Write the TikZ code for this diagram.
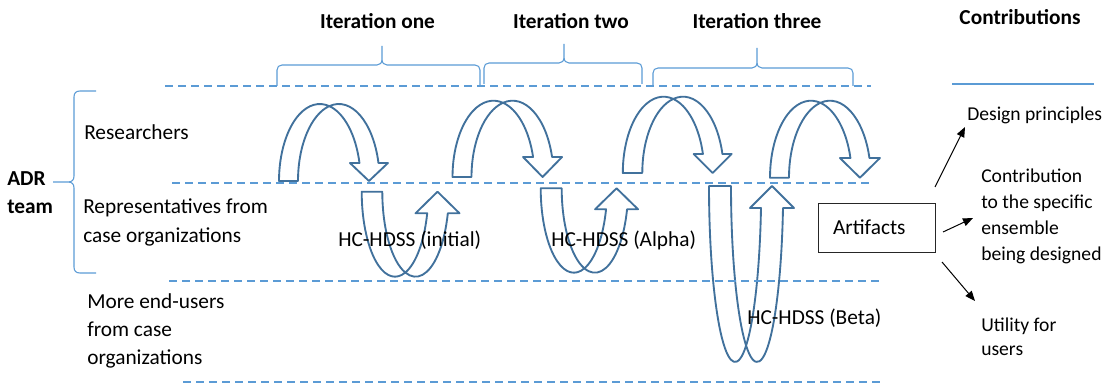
\documentclass[tikz,border=0pt]{standalone}
\usepackage{fontspec}
\setmainfont{Carlito}
\usetikzlibrary{calc,arrows.meta}

\definecolor{ribbonblue}{HTML}{41719C}
\definecolor{guideblue}{HTML}{5B9BD5}

\tikzset{
  ribbon/.style={draw=ribbonblue, fill=white, line width=1.4pt, line join=round},
  guide/.style={draw=guideblue, line width=0.9pt, dash pattern=on 6pt off 3.75pt},
  bracket/.style={draw=guideblue, line width=0.8pt},
  lbl/.style={font=\fontsize{16}{21.5}\selectfont, inner sep=0pt, anchor=west, align=left},
  small/.style={font=\fontsize{14.7}{19.5}\selectfont},
  head/.style={font=\bfseries\fontsize{16}{21.5}\selectfont, inner sep=0pt},
  outarrow/.style={draw=black, line width=0.75pt, -{Triangle[length=7.5pt,width=6pt]}},
}

% Curved ribbon arrow arching upwards and ending in a downward head.
% #1 left foot x, #2 foot y, #3 band width, #4 x radius, #5 y radius,
% #6 head height, #7 head half width
\newcommand\downloop[7]{%
  \pgfmathsetmacro\dlA{#1+#4}%
  \pgfmathsetmacro\dlB{#1+#3+#4}%
  \pgfmathsetmacro\dlM{360-acos(#3/(2*#4))}%
  \pgfmathsetmacro\dlN{360-acos(-#3/(2*#4))}%
  \pgfmathsetmacro\dlE{360-asin(#6/#5)}%
  \pgfmathsetmacro\dlX{\dlB+#4*cos(\dlE)-#3/2}%
  \pgfmathsetmacro\dlH{#2-#6}%
  \draw[ribbon] (#1,#2) arc[start angle=180,end angle=\dlM,x radius=#4,y radius=#5]
    arc[start angle=\dlN,end angle=180,x radius=#4,y radius=#5] -- cycle;
  \draw[ribbon] ($(\dlA,#2)+(\dlM:#4 and #5)$)
    arc[start angle=\dlN,end angle=\dlE,x radius=#4,y radius=#5]
    -- (\dlX+#7,\dlH) -- (\dlX,#2) -- (\dlX-#7,\dlH)
    -- ($(\dlA,#2)+(\dlE:#4 and #5)$)
    arc[start angle=\dlE,end angle=\dlM,x radius=#4,y radius=#5] -- cycle;
}

% Curved ribbon arrow sagging downwards and ending in an upward head.
% #1 left tail x, #2 tail top y, #3 band width, #4 x radius, #5 y radius,
% #6 head height, #7 head half width
\newcommand\uploop[7]{%
  \pgfmathsetmacro\ulA{#1+#4}%
  \pgfmathsetmacro\ulB{#1+#3+#4}%
  \pgfmathsetmacro\ulM{acos(#3/(2*#4))}%
  \pgfmathsetmacro\ulN{acos(-#3/(2*#4))}%
  \pgfmathsetmacro\ulE{asin(#6/#5)}%
  \pgfmathsetmacro\ulX{\ulB+#4*cos(\ulE)-#3/2}%
  \pgfmathsetmacro\ulH{#2+#6}%
  \draw[ribbon] (#1,#2) arc[start angle=180,end angle=\ulM,x radius=#4,y radius=#5]
    arc[start angle=\ulN,end angle=180,x radius=#4,y radius=#5] -- cycle;
  \draw[ribbon] ($(\ulA,#2)+(\ulM:#4 and #5)$)
    arc[start angle=\ulN,end angle=\ulE,x radius=#4,y radius=#5]
    -- (\ulX+#7,\ulH) -- (\ulX,#2) -- (\ulX-#7,\ulH)
    -- ($(\ulA,#2)+(\ulE:#4 and #5)$)
    arc[start angle=\ulE,end angle=\ulM,x radius=#4,y radius=#5] -- cycle;
}

% Horizontal curly bracket opening downwards with its point on top.
% #1 left x, #2 right x, #3 point x, #4 end y, #5 bar y, #6 point y
\newcommand\iterbrace[6]{%
  \draw[bracket] (#1,#4) -- (#1,#5+5) .. controls (#1,#5+2) and (#1+2,#5) .. (#1+5,#5)
    -- (#3-5,#5) .. controls (#3-2,#5) and (#3,#5-2) .. (#3,#5-6) -- (#3,#6)
    -- (#3,#5-6) .. controls (#3,#5-2) and (#3+2,#5) .. (#3+5,#5)
    -- (#2-5,#5) .. controls (#2-2,#5) and (#2,#5+2) .. (#2,#5+5) -- (#2,#4);
}

\begin{document}
\begin{tikzpicture}[x=0.75pt,y=-0.75pt]
  \useasboundingbox (0,0) rectangle (1113,385);

  % column headings
  \node[head] (it1) at (377.5,21) {Iteration one};
  \node[head] (it2) at (571,21) {Iteration two};
  \node[head] (it3) at (757,21) {Iteration three};
  \node[head] (contrib) at (1020,17) {Contributions};

  % brackets grouping the iterations
  \iterbrace{277}{480}{382}{86}{65}{46}
  \iterbrace{484}{642}{564}{84}{63}{44}
  \iterbrace{653}{853}{757}{86}{68}{48}

  % bracket around the ADR team rows
  \draw[bracket] (96,91) -- (80,91) .. controls (76,91) and (74,93) .. (74,97)
    -- (74,176) .. controls (74,180) and (72,182) .. (68,182) -- (53,182)
    -- (68,182) .. controls (72,182) and (74,184) .. (74,188)
    -- (74,267) .. controls (74,271) and (76,273) .. (80,273) -- (96,273);

  % row labels
  \node[lbl, font=\bfseries\fontsize{16}{21.5}\selectfont] (adr) at (7,192.5) {ADR\\team};
  \node[lbl] (res) at (84,132) {Researchers};
  \node[lbl] (rep) at (83,222.5) {Representatives from\\case organizations};
  \node[lbl, font=\fontsize{16}{21}\selectfont] (more) at (87,331) {More end-users\\from case\\organizations};

  % iteration cycles between the rows
  \downloop{279}{181}{19}{40.8}{77}{18}{19}
  \downloop{452.5}{177}{19}{41}{76.3}{20}{19.5}
  \downloop{622.8}{173}{19.5}{40.7}{76.3}{19}{19}
  \downloop{770}{177.7}{19}{40.9}{77}{19.7}{20}

  \uploop{361.7}{191.7}{20.6}{33.3}{85}{21.6}{22}
  \uploop{540.7}{188.3}{21}{33.2}{84.4}{21}{21.5}
  \uploop{709}{186}{22}{26.1}{176}{22}{22}

  % row separators
  \draw[guide] (165,86) -- (871,86);
  \draw[guide] (172,183) -- (869,183);
  \draw[guide] (169,281) -- (879,281);
  \draw[guide] (183,382) -- (885,382);
  \draw[guideblue, line width=0.9pt] (952,84) -- (1094,84);

  % artifact names
  \node[lbl] (hci) at (338,240) {HC-HDSS (initial)};
  \node[lbl] (hca) at (551,240) {HC-HDSS (Alpha)};
  \node[lbl] (hcb) at (747,318) {HC-HDSS (Beta)};

  % artifacts and their contributions
  \node[draw=black!85, line width=0.75pt, minimum width=87.75pt, minimum height=36.75pt,
        text width=65.25pt, inner xsep=11.25pt, inner ysep=0pt, align=left,
        font=\fontsize{16}{21.5}\selectfont] (art) at (876.5,227.5) {Artifacts};
  \node[lbl, small] (dp) at (967,115) {Design principles};
  \node[lbl, small] (cs) at (981,216) {Contribution\\to the specific\\ensemble\\being designed};
  \node[lbl, font=\fontsize{14.7}{18}\selectfont] (ut) at (981,337) {Utility for\\users};

  \coordinate (a1s) at (935,187);
  \coordinate (a1e) at (965,127);
  \coordinate (a2s) at (943,232);
  \coordinate (a2e) at (973,218);
  \coordinate (a3s) at (942,262);
  \coordinate (a3e) at (975,301);
  \draw[outarrow] (a1s) -- (a1e);
  \draw[outarrow] (a2s) -- (a2e);
  \draw[outarrow] (a3s) -- (a3e);
\end{tikzpicture}
\end{document}
